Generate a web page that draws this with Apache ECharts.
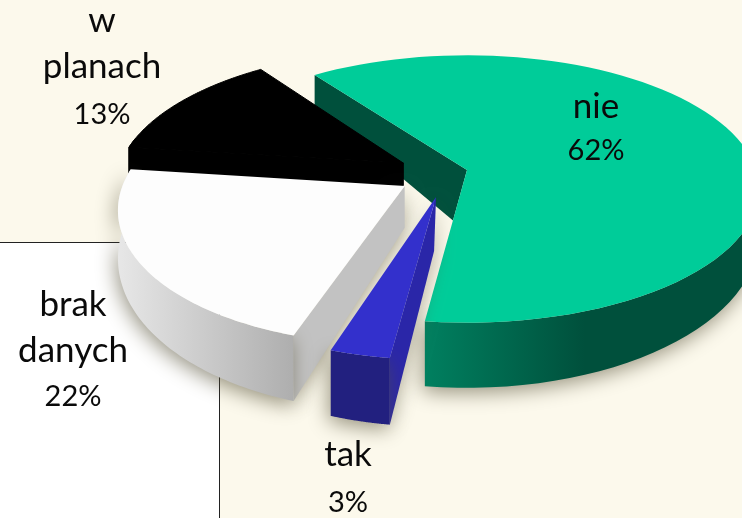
<!DOCTYPE html>
<html><head><meta charset="utf-8">
<style>html,body{margin:0;padding:0;background:#fcf9ec}#c{width:742px;height:518px}</style>
<script src="https://cdn.jsdelivr.net/npm/echarts@6/dist/echarts.min.js"></script>
</head><body><div id="c"></div>
<script>
const categories = ['nie', 'tak', 'brak danych', 'w planach'];
const values = [62, 3, 22, 13];

// layout of the tilted pie (perspective projection of a unit circle)
const VIEW = {cx: 467, cy: 170, R: 289, K: 131, p: 0.142, startDeg: -36};
const explodeX = [0, -0.104, -0.212, -0.222];
const explodeZ = [0, 0.2, 0.12, -0.053];
const radiusX = [1, 0.94, 0.96, 0.985];
const wallScale = [1, 0.95, 0.98, 1];
const apexDx = [-14, -2, 0, 0];
const apexDh = [7, 9, -3, -20];
const drawZ = [10, 40, 30, 20];
const labelPos = [[596, 107], [348, 455], [73, 305], [102, 21]];
const percentDy = [-2, 2, 1, 3];
const topColor = ['#00cc99', '#3330cc', '#fdfdfd', '#000000'];
const radialColor = ['#00503c', '#2a26a8', '#c2c2c2', '#000000'];
const arcStops = [
  [[0, '#007f5f'], [0.5, '#00503c'], [1, '#00503c']],
  [[0, '#22207f'], [1, '#22207f']],
  [[0, '#e8e8e8'], [1, '#acacac']],
  [[0, '#000000'], [1, '#000000']]
];
const arcRange = [[427, 742], [332, 388], [115, 300], [120, 410]];

const total = values.reduce((a, b) => a + b, 0);
const SHADOW = {shadowColor: 'rgba(85,80,55,0.6)', shadowBlur: 20, shadowOffsetY: 5, shadowOffsetX: -2};
const NO_SHADOW = {};

function project(X, Z) {
  const d = 1 - VIEW.p * Z;
  return [VIEW.cx + VIEW.R * X / d, VIEW.cy + VIEW.K * Z / d];
}
function wall(pt, i) {
  return [pt[0], pt[1] + (30 + (pt[1] - 75) * 0.142) * wallScale[i]];
}
function renderItem(params, api) {
  const i = params.dataIndex;
  let before = 0;
  for (let k = 0; k < i; k++) before += values[k];
  const a0 = (VIEW.startDeg + before / total * 360) * Math.PI / 180;
  const a1 = (VIEW.startDeg + (before + api.value(0)) / total * 360) * Math.PI / 180;
  const ox = explodeX[i], oz = explodeZ[i];
  const rim = [];
  const n = 80;
  const angles = [];
  for (let s = 0; s <= n; s++) {
    const t = a0 + (a1 - a0) * s / n;
    angles.push(t);
    rim.push(project(ox + radiusX[i] * Math.sin(t), oz - Math.cos(t)));
  }
  const apex = project(ox, oz);
  const apexB = wall(apex, i);
  apexB[0] += apexDx[i];
  apexB[1] += apexDh[i];
  const rimB = rim.map(p => wall(p, i));
  const z = drawZ[i];
  const children = [];
  const isBlack = topColor[i] === '#000000';
  const seam = isBlack ? {stroke: '#000000', lineWidth: 1} : {};
  // the radial wall at the start edge is the one that faces the viewer
  children.push({type: 'polygon', z2: z,
    shape: {points: [apex, rim[0], rimB[0], apexB]},
    style: Object.assign({fill: radialColor[i]}, seam, i === 0 || isBlack ? NO_SHADOW : SHADOW)});
  // outer curved wall, only the part that faces the viewer
  const front = rim.filter((p, s) => Math.cos(angles[s]) < 0.2);
  const frontB = rimB.filter((p, s) => Math.cos(angles[s]) < 0.2);
  children.push({type: 'polygon', z2: z + 1,
    shape: {points: front.concat(frontB.slice().reverse())},
    style: Object.assign({fill: new echarts.graphic.LinearGradient(arcRange[i][0], 0, arcRange[i][1], 0,
      arcStops[i].map(s => ({offset: s[0], color: s[1]})), true)}, seam, isBlack ? NO_SHADOW : SHADOW)});
  // top face
  children.push({type: 'polygon', z2: z + 2,
    shape: {points: [apex].concat(rim)},
    style: Object.assign({fill: topColor[i]}, seam)});
  // label
  const lines = categories[i].split(' ');
  lines.forEach((line, li) => {
    children.push({type: 'text', z2: 100,
      x: labelPos[i][0], y: labelPos[i][1] + li * 45.5,
      style: {text: line, fill: '#0a0a0a', font: '35px Lato', align: 'center', verticalAlign: 'middle'}});
  });
  children.push({type: 'text', z2: 100,
    x: labelPos[i][0], y: labelPos[i][1] + lines.length * 45.5 + percentDy[i],
    style: {text: api.value(0) + '%', fill: '#0a0a0a', font: '29px Lato', align: 'center', verticalAlign: 'middle'}});
  return {type: 'group', children};
}
const chart = echarts.init(document.getElementById('c'), null, {renderer: 'canvas'});
chart.setOption({
  animation: false,
  backgroundColor: '#fcf9ec',
  graphic: [
    {type: 'rect', z: -10, shape: {x: 0, y: 242, width: 219, height: 276}, style: {fill: '#ffffff'}},
    {type: 'line', z: -9, shape: {x1: 0, y1: 242.5, x2: 219, y2: 242.5}, style: {stroke: '#222', lineWidth: 1}},
    {type: 'line', z: -9, shape: {x1: 219.5, y1: 242, x2: 219.5, y2: 518}, style: {stroke: '#222', lineWidth: 1}}
  ],
  series: [{
    type: 'custom',
    coordinateSystem: 'none',
    renderItem: renderItem,
    data: values.map((v, i) => ({name: categories[i], value: [v]}))
  }]
});
</script></body></html>
